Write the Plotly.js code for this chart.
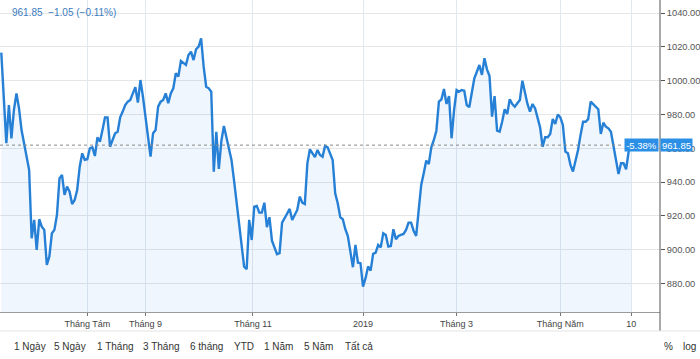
<!DOCTYPE html>
<html>
<head>
<meta charset="utf-8">
<script src="https://cdn.plot.ly/plotly-3.0.1.min.js"></script>
<style>
html,body{margin:0;padding:0;background:#fff;}
#chart{width:700px;height:359px;}
</style>
</head>
<body>
<div id="chart"></div>
<script>
// Trading-session number (0 = first session shown) and closing value
const sessions = [0,2,3,4,5,6,7,8,9,10,11,12,13,14,15,16,17,18,19,20,21,22,23,24,25,26,27,28,29,30,
31,32,33,34,35,36,37,38,39,40,41,42,43,44,45,46,47,48,49,50,51,52,53,54,55,56,57,58,59,60,
61,62,63,64,65,66,67,68,69,70,71,72,73,74,75,76,77,78,79,80,81,82,83,84,85,86,87,88,89,90,
91,92,93,94,95,96,97,98,99,100,101,102,103,104,105,106,107,108,109,110,111,112,113,114,115,116,117,118,119,120,
121,122,123,124,125,126,127,128,129,131,132,133,134,135,136,137,138,139,140,141,142,143,144,145,146,147,148,149,150,
151,152,153,154,155,156,157,158,159,160,161,162,163,164,165,166,167,168,169,170,171,172,173,174,175,176,177,178,179,180,
181,182,183,184,185,187,188,189,190,191,192,193,194,195,196,197,198,199,200,201,202,203,204,205,206,207,208,209,210,
211,212,213,214,215,216,217,218,219,220,221,222,223,224,225,226,227,228,229,230,231,232,233,234,235,236,237,238,239,240,
241,242,243,244,245,246,247,248,249];
const closes = [1016.6,963.0,985.6,965.9,982.7,992.5,983.7,970.8,963.0,956.0,947.2,906.7,917.6,899.8,918.0,913.6,911.7,890.9,895.9,909.7,
911.7,920.5,942.2,944.2,932.4,937.3,934.3,927.0,929.4,935.3,
949.1,957.0,953.1,953.5,960.0,960.6,955.4,966.5,963.9,970.8,978.3,978.3,960.9,964.9,968.9,969.8,978.3,981.7,985.6,987.6,
988.6,992.5,996.1,987.0,1000.4,990.5,976.7,966.9,955.0,968.9,
970.8,984.6,987.6,988.6,992.5,986.6,992.5,995.5,1004.4,1002.4,1011.7,1010.7,1009.3,1015.2,1017.2,1012.2,1018.6,1020.1,1025.1,1008.3,
996.4,995.5,993.5,946.2,969.8,947.8,964.3,973.2,966.1,959.0,
953.1,941.2,927.5,913.6,903.8,889.9,888.4,917.6,905.7,925.4,925.9,921.9,921.9,927.8,913.3,919.2,905.3,901.4,897.3,897.9,
916.0,918.6,921.5,924.1,917.6,920.5,923.5,931.4,927.8,927.0,
951.1,959.4,957.4,954.7,959.0,956.0,955.0,961.4,960.6,953.1,933.4,927.5,919.2,918.0,912.1,908.1,898.8,889.6,902.8,892.3,
892.0,878.1,883.1,890.1,887.6,897.5,898.2,902.8,901.4,
909.7,908.7,901.8,902.2,912.1,906.2,908.1,908.7,909.3,911.7,916.0,916.0,911.2,908.1,923.5,938.3,945.2,952.7,950.7,960.6,
964.9,970.4,987.6,989.0,995.1,986.2,990.9,965.9,982.7,994.5,
993.5,994.5,994.1,985.6,984.3,1001.4,1005.3,1009.3,1003.4,1013.3,1006.7,1002.8,978.7,990.9,970.4,969.8,975.7,983.1,980.3,989.0,
986.2,984.6,986.6,988.6,1000.0,992.1,986.2,981.7,986.2,
983.7,978.3,972.4,960.9,966.5,966.5,968.5,977.3,974.4,980.0,978.3,973.8,958.0,957.0,950.1,946.2,952.1,959.0,967.9,975.7,
975.7,977.2,987.6,986.2,984.3,983.1,968.5,975.1,972.8,971.8,
969.8,961.4,953.5,944.8,951.1,951.1,947.6,958.0,961.85];

const tickSessions = [34, 57, 99.5, 143, 180, 221, 249];
const tickLabels = ["Tháng Tám", "Tháng 9", "Tháng 11", "2019", "Tháng 3", "Tháng Năm", "10"];
const yTicks = [880, 900, 920, 940, 960, 980, 1000, 1020, 1040];
const lastValue = 961.85;
const headerText = "961.85  −1.05 (−0.11%)";
const changePct = "-5.38%";
const rangeButtons = ["1 Ngày", "5 Ngày", "1 Tháng", "3 Tháng", "6 tháng", "YTD", "1 Năm", "5 Năm", "Tất cả"];
const buttonX = [11.7, 51.7, 95, 141, 187.7, 231.7, 262.3, 301.7, 343.3];

const W = 700, H = 359, L = 0, R = 40, T = 0, B = 47;
const pw = W - L - R, ph = H - T - B;
const px = (v) => v / pw;            // pixel -> paper x
const py = (v) => 1 - v / ph;        // pixel from top -> paper y

const blue = '#2680d6';
const font = 'Liberation Sans, Arial, sans-serif';

const trace = {
  x: sessions, y: closes, type: 'scatter', mode: 'lines',
  line: {color: blue, width: 2.4},
  fill: 'tozeroy', fillcolor: 'rgba(40,130,220,0.07)',
  hoverinfo: 'skip'
};

const annotations = [
  {xref:'paper', yref:'paper', x:px(10), y:py(13), xanchor:'left', yanchor:'middle',
   text: headerText, showarrow:false, font:{family:font, size:10, color:'#3a7cc0'}},
  {xref:'paper', yref:'y', x:px(641.5), y:lastValue, xanchor:'center', yanchor:'middle',
   text: changePct, showarrow:false, bgcolor:'#2b8fe6', width:33, height:12, borderpad:0,
   font:{family:font, size:9.5, color:'#ffffff'}},
  {xref:'paper', yref:'y', x:px(676), y:lastValue, xanchor:'center', yanchor:'middle',
   text: lastValue.toFixed(2), showarrow:false, bgcolor:'#2b8fe6', width:31, height:12, borderpad:0,
   font:{family:font, size:9.5, color:'#ffffff'}},
  {xref:'paper', yref:'paper', x:px(662), y:py(346.5), xanchor:'left', yanchor:'middle',
   text:'%', showarrow:false, font:{family:font, size:10, color:'#333'}},
  {xref:'paper', yref:'paper', x:px(681), y:py(346.5), xanchor:'left', yanchor:'middle',
   text:'log', showarrow:false, font:{family:font, size:10, color:'#333'}}
];
rangeButtons.forEach((t, i) => {
  annotations.push({xref:'paper', yref:'paper', x:px(buttonX[i]), y:py(346.5), xanchor:'left', yanchor:'middle',
    text:t, showarrow:false, font:{family:font, size:10, color:'#333'}});
});

const shapes = [
  {type:'line', xref:'paper', yref:'y', x0:0, x1:px(624), y0:lastValue, y1:lastValue,
   line:{color:'#8a8a8a', width:1, dash:'dot'}},
  {type:'line', xref:'paper', yref:'paper', x0:1, x1:1, y0:py(0), y1:py(331),
   line:{color:'#555', width:1}},
  {type:'line', xref:'paper', yref:'paper', x0:0, x1:px(700), y0:py(331), y1:py(331),
   line:{color:'#e3e3e3', width:1}}
];

const layout = {
  width: W, height: H,
  margin: {l:L, r:R, t:T, b:B, pad:0},
  paper_bgcolor:'#fff', plot_bgcolor:'#fff',
  showlegend:false,
  xaxis: {
    range: [-0.51, 260.4], tickmode:'array', tickvals: tickSessions, ticktext: tickLabels,
    showgrid:true, gridcolor:'#e2e8ef', gridwidth:1, zeroline:false,
    showline:true, linecolor:'#9a9a9a', linewidth:1,
    ticks:'outside', ticklen:3, tickcolor:'#777',
    tickfont:{family:font, size:9, color:'#444'}, fixedrange:true
  },
  yaxis: {
    side:'right', range:[863.1, 1047.75], tickmode:'array', tickvals: yTicks,
    ticktext: yTicks.map(v => v.toFixed(2)),
    showgrid:true, gridcolor:'#e6e6e6', gridwidth:1, zeroline:false,
    showline:false, ticks:'outside', ticklen:4, tickcolor:'#555',
    tickfont:{family:font, size:9.3, color:'#555'}, fixedrange:true
  },
  annotations: annotations,
  shapes: shapes
};

Plotly.newPlot('chart', [trace], layout, {displayModeBar:false, staticPlot:true});
</script>
</body>
</html>
